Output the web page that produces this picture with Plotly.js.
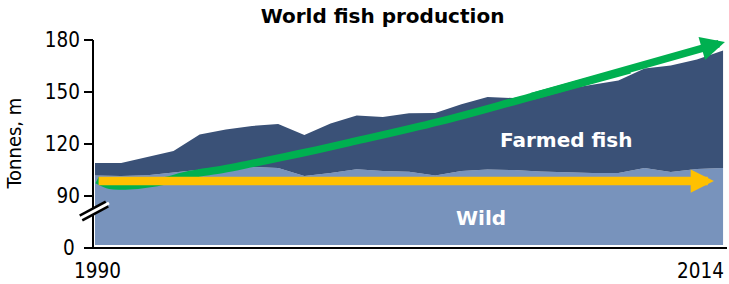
<!DOCTYPE html>
<html>
<head>
<meta charset="utf-8">
<script src="https://cdn.plot.ly/plotly-3.0.1.min.js"></script>
<style>html,body{margin:0;padding:0;background:#fff;}#chart{width:729px;height:284px;}</style>
</head>
<body>
<div id="chart"></div>
<script>
// ---- data (million tonnes) ----
var years = [1990,1991,1992,1993,1994,1995,1996,1997,1998,1999,2000,2001,2002,
             2003,2004,2005,2006,2007,2008,2009,2010,2011,2012,2013,2014];
var wild = [101.8,101.5,102,103.8,105.2,105.6,106.7,106.2,101.5,103.3,105.4,104.4,104,
            101.8,104.4,105.3,105,104.1,103.6,103.3,103.3,106.2,103.8,105.6,106.2];
var farmed = [7.2,7.5,10.5,12.2,20.3,22.7,23.7,25.3,23.7,28.5,31,31.2,33.7,
              36.1,38.6,41.8,41.5,45.3,48.1,50.7,53.3,57.4,61.5,63.2,67.7];
// growth-trend arrow (farmed + wild) and flat wild-catch arrow
var trendX = [1990.08,1990.57,1991.15,1992.37,1993.63,1994.89,1995.92,1997.83,1999.74,2003.18,2006.62,2010.44];
var trendY = [99.2,96.1,95.8,97.8,102.4,105.4,108.5,114.5,120.9,133.0,147.1,162.7];
var trendTip = [2014.07,178.85];
var flatStart = [1990.08,98.65];
var flatTip = [2013.65,98.65];
// axis tick labels
var yTickVals = [90,120,150,180];
var yTickText = ['90','120','150','180'];
var yZeroLabel = '0';
var xTickLabels = ['1990','2014'];
var seriesLabels = {farmed:'Farmed fish', wild:'Wild'};
var labelPos = {farmed:[2008.0,122.3], wild:[2004.75,77.3]};

var FONT_C = '"DejaVu Sans Condensed", "DejaVu Sans", sans-serif';
var FONT = '"DejaVu Sans", sans-serif';
var WILD_COL = '#7893bc';
var FARM_COL = '#3a5177';
var GREEN = '#00b050';
var YELLOW = '#ffc000';

var W = 634, H = 208; // plot area in px
function px(dx){return dx/W;}
function py(dy){return dy/H;}

var traces = [
  {x:years, y:wild, type:'scatter', mode:'lines', stackgroup:'s',
   line:{width:0, color:WILD_COL}, fillcolor:WILD_COL, hoverinfo:'skip'},
  {x:years, y:farmed, type:'scatter', mode:'lines', stackgroup:'s',
   line:{width:0, color:FARM_COL}, fillcolor:FARM_COL, hoverinfo:'skip'},
  {x:trendX, y:trendY, type:'scatter', mode:'lines',
   line:{width:7.5, color:GREEN, shape:'spline', smoothing:1}, hoverinfo:'skip', cliponaxis:false}
];

var n = trendX.length;
var annotations = [
  {x:trendTip[0], y:trendTip[1], ax:trendX[n-2], ay:trendY[n-2],
   xref:'x', yref:'y', axref:'x', ayref:'y', text:'', showarrow:true, standoff:0, startstandoff:0,
   arrowhead:2, arrowsize:0.64, arrowwidth:7.5, arrowcolor:GREEN},
  {x:flatTip[0], y:flatTip[1], ax:flatStart[0], ay:flatStart[1],
   xref:'x', yref:'y', axref:'x', ayref:'y', text:'', showarrow:true, standoff:0, startstandoff:0,
   arrowhead:2, arrowsize:0.56, arrowwidth:8.3, arrowcolor:YELLOW},
  {x:labelPos.farmed[0], y:labelPos.farmed[1], xref:'x', yref:'y', text:'<b>'+seriesLabels.farmed+'</b>',
   showarrow:false, font:{family:FONT, size:20, color:'#ffffff'}},
  {x:labelPos.wild[0], y:labelPos.wild[1], xref:'x', yref:'y', text:'<b>'+seriesLabels.wild+'</b>',
   showarrow:false, font:{family:FONT, size:20, color:'#ffffff'}},
  {x:px(-16), y:0, xref:'paper', yref:'paper', text:yZeroLabel, showarrow:false,
   xanchor:'right', yanchor:'middle', font:{family:FONT_C, size:20.5, color:'#000'}},
  {x:px(4), y:py(-23), xref:'paper', yref:'paper', text:xTickLabels[0], showarrow:false,
   xanchor:'center', yanchor:'middle', font:{family:FONT_C, size:20.5, color:'#000'}},
  {x:px(633), y:py(-23), xref:'paper', yref:'paper', text:xTickLabels[1], showarrow:false,
   xanchor:'right', yanchor:'middle', font:{family:FONT_C, size:20.5, color:'#000'}},
  {x:px(-80), y:py(104.5), xref:'paper', yref:'paper', text:'Tonnes, m', textangle:-90, showarrow:false,
   xanchor:'center', yanchor:'middle', font:{family:FONT_C, size:20, color:'#000'}}
];

var shapes = [
  // axis lines
  {type:'line', xref:'paper', yref:'paper', x0:0, y0:py(-1), x1:0, y1:1, line:{color:'#000', width:2}},
  {type:'line', xref:'paper', yref:'paper', x0:0, y0:0, x1:1, y1:0, line:{color:'#000', width:2}},
  // tick at "0"
  {type:'line', xref:'paper', yref:'paper', x0:px(-9), y0:0, x1:0, y1:0, line:{color:'#000', width:2}},
  // axis break
  {type:'line', xref:'paper', yref:'paper', x0:px(-12), y0:py(30), x1:px(14), y1:py(44), line:{color:'#000', width:8}},
  {type:'line', xref:'paper', yref:'paper', x0:px(-14), y0:py(29), x1:px(16), y1:py(45), line:{color:'#fff', width:3}}
];

var layout = {
  width:729, height:284,
  margin:{l:93, r:2, t:40, b:36, pad:0},
  paper_bgcolor:'#fff', plot_bgcolor:'rgba(0,0,0,0)',
  showlegend:false,
  title:{text:'<b>World fish production</b>', font:{family:FONT, size:20, color:'#000'},
         xref:'container', yref:'container', x:382.5/729, y:1-16/284, xanchor:'center', yanchor:'middle'},
  xaxis:{range:[1990,2014.15], domain:[px(2),1], anchor:'free', position:0,
         showline:false, showgrid:false, zeroline:false, showticklabels:false, ticks:''},
  yaxis:{range:[61.73,180], domain:[py(3),1], anchor:'free', position:0,
         showline:false, showgrid:false, zeroline:false,
         tickmode:'array', tickvals:yTickVals, ticktext:yTickText,
         ticks:'outside', ticklen:9, tickwidth:2, tickcolor:'#000',
         tickfont:{family:FONT_C, size:20.5, color:'#000'}},
  annotations:annotations,
  shapes:shapes
};

Plotly.newPlot('chart', traces, layout, {staticPlot:true});
</script>
</body>
</html>
